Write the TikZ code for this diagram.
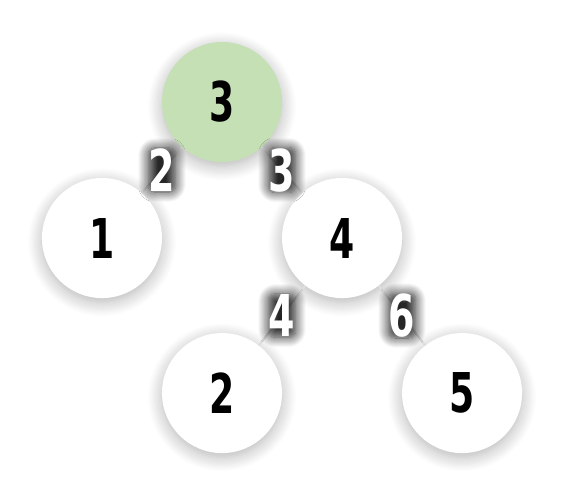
\documentclass[tikz,border=0pt]{standalone}
\usepackage{fontspec}
\newfontfamily\digitfont[FakeStretch=0.66]{DejaVu Sans}
\usetikzlibrary{shadows.blur}
\definecolor{rootgreen}{RGB}{197,224,180}
\definecolor{edgegray}{RGB}{222,222,222}

\begin{document}
\begin{tikzpicture}[x=0.025cm,y=-0.025cm,level distance=3.4cm,sibling distance=6cm,
level 2/.style={level distance=3.875cm},
vertex/.style={circle,minimum size=3cm,inner sep=0pt,fill=white,
  font=\digitfont\bfseries\fontsize{39}{39}\selectfont,
  blur shadow={shadow xshift=0pt,shadow yshift=-3pt,shadow opacity=30,shadow blur radius=10pt,shadow blur steps=12}},
weight/.style={rectangle,inner sep=0.5pt,text=white,fill=none,
  font=\digitfont\bfseries\fontsize{41}{41}\selectfont,
  blur shadow={shadow xshift=0pt,shadow yshift=0pt,shadow opacity=85,shadow blur radius=7pt,shadow blur extra rounding=5pt,shadow blur steps=12}},
edge from parent/.style={draw=edgegray,line width=1.5pt}]
\useasboundingbox (0,0) rectangle (565,500);
\node[vertex,fill=rootgreen](root) at (222,102) {3}
child { node[vertex](one) {1} edge from parent node[weight](w2) {2} }
child { node[vertex](four) {4}
child { node[vertex](two) {2} edge from parent node[weight](w4) {4} }
child { node[vertex](five) {5} edge from parent node[weight](w6) {6} }
edge from parent node[weight](w3) {3} };
\end{tikzpicture}
\end{document}
